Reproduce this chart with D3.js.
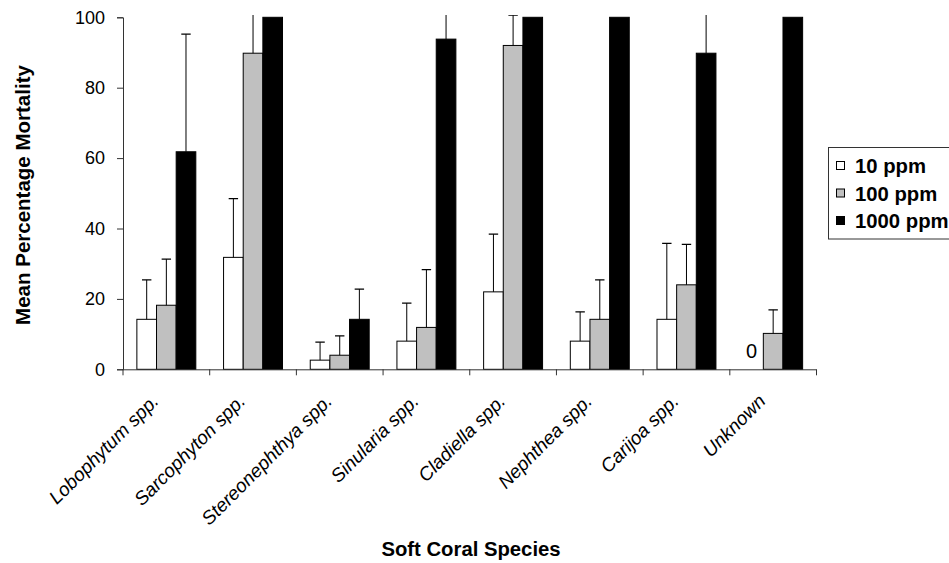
<!DOCTYPE html>
<html>
<head>
<meta charset="utf-8">
<script src="https://cdn.jsdelivr.net/npm/d3@7"></script>
<style>
  html, body { margin: 0; padding: 0; background: #fff; }
  svg { display: block; font-family: "Liberation Sans", Arial, sans-serif; }
</style>
</head>
<body>
<svg id="chart" width="949" height="563"></svg>
<script>
// ---- data ----
const categories = ["Lobophytum spp.", "Sarcophyton spp.", "Stereonephthya spp.", "Sinularia spp.",
                    "Cladiella spp.", "Nephthea spp.", "Carijoa spp.", "Unknown"];
const seriesNames = ["10 ppm", "100 ppm", "1000 ppm"];
const mean10   = [14.2, 31.8, 2.6, 8.0, 22.0, 8.0, 14.2, 0];
const mean100  = [18.2, 89.8, 4.0, 11.9, 92.0, 14.2, 24.0, 10.2];
const mean1000 = [61.8, 100, 14.2, 93.8, 100, 100, 89.8, 100];
const err10    = [11.2, 16.7, 5.1, 10.8, 16.4, 8.3, 21.6, 0];
const err100   = [13.1, 20.0, 5.5, 16.4, 8.6, 11.2, 11.5, 6.7];
const err1000  = [33.4, 0, 8.6, 15.0, 0, 0, 15.0, 0];
const yTicks   = [0, 20, 40, 60, 80, 100];
const fills    = ["#ffffff", "#c0c0c0", "#000000"];

const means = [mean10, mean100, mean1000];
const errs = [err10, err100, err1000];

const svg = d3.select("#chart");
const pL = 123, pR = 816.5, pT = 17.3, pB = 369.3;

const x = d3.scaleBand().domain(categories).range([pL, pR]).padding(0);
const y = d3.scaleLinear().domain([0, 100]).range([pB, pT]);
const groupW = x.bandwidth() * 0.68;
const xi = d3.scaleBand().domain(seriesNames)
  .range([(x.bandwidth() - groupW) / 2, (x.bandwidth() + groupW) / 2]).padding(0);

// clip for error bars extending above plot
svg.append("defs").append("clipPath").attr("id", "plotclip")
  .append("rect").attr("x", pL).attr("y", 15).attr("width", pR - pL).attr("height", pB - 15);

const rows = [];
categories.forEach((c, i) => {
  seriesNames.forEach((s, j) => {
    rows.push({cat: c, ser: s, j: j, v: means[j][i], e: errs[j][i]});
  });
});

const g = svg.append("g");

// bars
g.selectAll("rect.bar").data(rows.filter(d => d.v > 0)).join("rect")
  .attr("class", "bar")
  .attr("x", d => x(d.cat) + xi(d.ser))
  .attr("y", d => y(d.v))
  .attr("width", xi.bandwidth())
  .attr("height", d => y(0) - y(d.v))
  .attr("fill", d => fills[d.j])
  .attr("stroke", "#000")
  .attr("stroke-width", 1);

// error bars
const eg = g.append("g").attr("clip-path", "url(#plotclip)");
const withErr = rows.filter(d => d.e > 0);
eg.selectAll("line.ev").data(withErr).join("line")
  .attr("class", "ev")
  .attr("x1", d => x(d.cat) + xi(d.ser) + xi.bandwidth() / 2)
  .attr("x2", d => x(d.cat) + xi(d.ser) + xi.bandwidth() / 2)
  .attr("y1", d => y(d.v))
  .attr("y2", d => y(d.v + d.e))
  .attr("stroke", "#000").attr("stroke-width", 1);
eg.selectAll("line.ec").data(withErr).join("line")
  .attr("class", "ec")
  .attr("x1", d => x(d.cat) + xi(d.ser) + xi.bandwidth() / 2 - 4.7)
  .attr("x2", d => x(d.cat) + xi(d.ser) + xi.bandwidth() / 2 + 4.7)
  .attr("y1", d => y(d.v + d.e))
  .attr("y2", d => y(d.v + d.e))
  .attr("stroke", "#000").attr("stroke-width", 1.2);

// zero label
g.selectAll("text.zero").data(rows.filter(d => d.v === 0)).join("text")
  .attr("class", "zero")
  .attr("x", d => x(d.cat) + xi(d.ser) + xi.bandwidth() / 2 - 2)
  .attr("y", y(0) - 11.5)
  .attr("text-anchor", "middle")
  .attr("font-size", 20)
  .attr("fill", "#000")
  .text("0");

// y axis
const yAxis = svg.append("g").attr("transform", `translate(${pL},0)`)
  .call(d3.axisLeft(y).tickValues(yTicks).tickSize(6).tickPadding(12).tickFormat(d3.format("d")));
yAxis.selectAll("text").attr("font-size", 18).attr("fill", "#000")
  .style("font-family", '"Liberation Sans", Arial, sans-serif');
yAxis.selectAll("line,path").attr("stroke", "#333");

// x axis (ticks at category boundaries)
const xAxisG = svg.append("g");
xAxisG.append("line").attr("x1", pL).attr("x2", pR).attr("y1", pB + 0.5).attr("y2", pB + 0.5)
  .attr("stroke", "#333");
const bounds = categories.map(c => x(c)).concat([pR]);
xAxisG.selectAll("line.tk").data(bounds).join("line")
  .attr("class", "tk")
  .attr("x1", d => d).attr("x2", d => d).attr("y1", pB).attr("y2", pB + 6)
  .attr("stroke", "#333");

// x labels
svg.append("g").selectAll("text").data(categories).join("text")
  .attr("transform", d => `translate(${x(d) + x.bandwidth() / 2 - 6.5},${pB + 33}) rotate(-45)`)
  .attr("text-anchor", "end")
  .attr("font-size", 19)
  .attr("font-style", "italic")
  .attr("fill", "#000")
  .text(d => d);

// axis titles
svg.append("text")
  .attr("transform", `translate(30,195) rotate(-90)`)
  .attr("text-anchor", "middle")
  .attr("font-size", 20.5).attr("font-weight", "bold")
  .text("Mean Percentage Mortality");
svg.append("text")
  .attr("x", 471).attr("y", 556)
  .attr("text-anchor", "middle")
  .attr("font-size", 20.3).attr("font-weight", "bold")
  .text("Soft Coral Species");

// legend
const lg = svg.append("g");
lg.append("rect").attr("x", 828.5).attr("y", 147.5).attr("width", 130).attr("height", 91.5)
  .attr("fill", "#fff").attr("stroke", "#333");
const li = lg.selectAll("g.li").data(seriesNames).join("g")
  .attr("class", "li")
  .attr("transform", (d, i) => `translate(836,${166 + i * 27.5})`);
li.append("rect").attr("x", 0.5).attr("y", -4.5).attr("width", 8).attr("height", 8)
  .attr("fill", (d, i) => fills[i]).attr("stroke", "#000");
li.append("text").attr("x", 19).attr("y", 0).attr("dy", "0.36em")
  .attr("font-size", 20.3).attr("font-weight", "bold").text(d => d);
</script>
</body>
</html>
